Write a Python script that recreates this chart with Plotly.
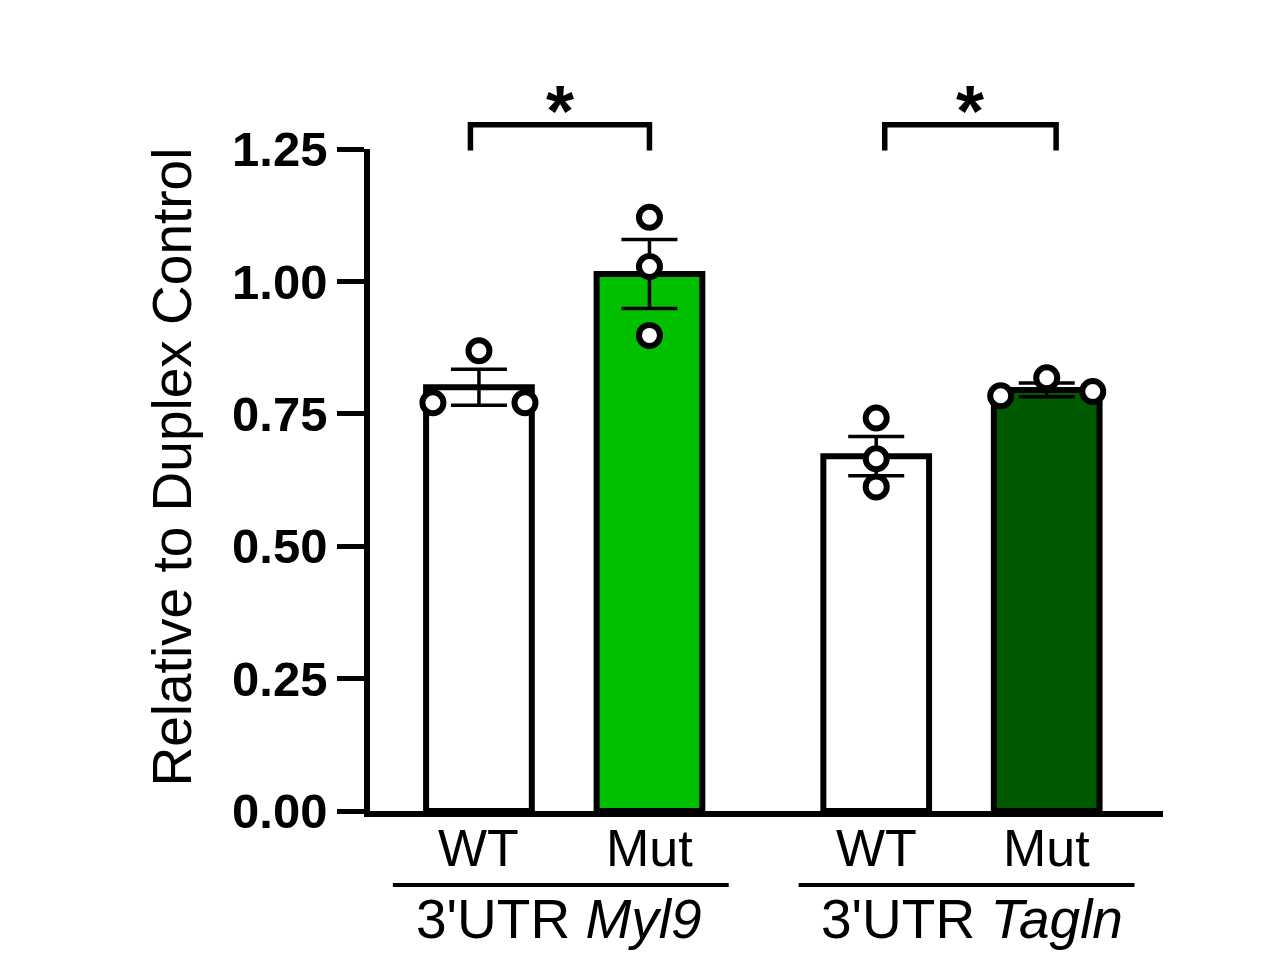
import plotly.graph_objects as go

# data
conditions = ["WT", "Mut", "WT", "Mut"]
groups = ["3'UTR <i>Myl9</i>", "3'UTR <i>Tagln</i>"]
means = [0.800, 1.014, 0.670, 0.795]
sems = [0.034, 0.065, 0.037, 0.013]
points_wt_myl9 = [0.771, 0.869, 0.771]
points_mut_myl9 = [1.121, 1.028, 0.898]
points_wt_tagln = [0.742, 0.665, 0.612]
points_mut_tagln = [0.784, 0.818, 0.792]
y_ticks = [0, 0.25, 0.5, 0.75, 1.0, 1.25]
stars = ["*", "*"]

# layout helpers
x_pos = [1, 2, 3.33, 4.33]
jitter = [[-0.27, 0, 0.27], [0, 0, 0], [0, 0, 0], [-0.27, 0, 0.27]]
bar_colors = ["white", "#00c000", "white", "#005a00"]
pairs = [(0, 1), (2, 3)]
bracket_nudge = [(-0.05, 0.0), (0.05, 0.055)]
label_nudge = [-0.03, 0.06]
line_nudge = [-0.02, 0.03]
FONT = "Liberation Sans, Arial, sans-serif"
Y_MAX = 1.25

all_points = [points_wt_myl9, points_mut_myl9, points_wt_tagln, points_mut_tagln]

fig = go.Figure()
fig.add_trace(go.Bar(
    x=x_pos, y=means, width=0.62,
    marker=dict(color=bar_colors, line=dict(color="black", width=6)),
    error_y=dict(type="data", array=sems, color="black", thickness=3.5, width=28),
    showlegend=False,
))

px_, py_ = [], []
for xp, js, pts in zip(x_pos, jitter, all_points):
    for j, v in zip(js, pts):
        px_.append(xp + j)
        py_.append(v)
fig.add_trace(go.Scatter(
    x=px_, y=py_, mode="markers", showlegend=False, cliponaxis=False,
    marker=dict(symbol="circle", size=21, color="white", line=dict(color="black", width=6)),
))

# significance brackets (above the axis range, so in paper units)
y_top, y_leg = 1.296 / Y_MAX, 1.247 / Y_MAX
for (a, b), (n1, n2), s in zip(pairs, bracket_nudge, stars):
    x1, x2 = x_pos[a] + n1, x_pos[b] + n2
    fig.add_shape(type="path", xref="x", yref="paper",
                  path=f"M {x1} {y_leg} L {x1} {y_top} L {x2} {y_top} L {x2} {y_leg}",
                  line=dict(color="black", width=5.5))
    fig.add_annotation(x=(x1 + x2) / 2, y=y_top, xref="x", yref="paper", text=s,
                       showarrow=False, yanchor="bottom", yshift=-28,
                       font=dict(family=FONT, size=72, color="black", weight="bold"))

# condition labels
for xp, lab in zip(x_pos, conditions):
    fig.add_annotation(x=xp, y=-0.056, xref="x", yref="paper", text=lab,
                       showarrow=False, yanchor="middle",
                       font=dict(family=FONT, size=52, color="black"))

# group labels with underlines
for (a, b), g, ln, lb in zip(pairs, groups, line_nudge, label_nudge):
    c = (x_pos[a] + x_pos[b]) / 2
    fig.add_shape(type="line", xref="x", yref="paper",
                  x0=c + ln - 0.985, x1=c + ln + 0.985, y0=-0.1118, y1=-0.1118,
                  line=dict(color="black", width=4))
    fig.add_annotation(x=c + lb, y=-0.163, xref="x", yref="paper", text=g,
                       showarrow=False, yanchor="middle",
                       font=dict(family=FONT, size=55, color="black"))

fig.add_annotation(x=-0.25, y=0.52, xref="paper", yref="paper",
                   text="Relative to Duplex Control", textangle=-90,
                   showarrow=False, xanchor="center", yanchor="middle",
                   font=dict(family=FONT, size=55, color="black"))

fig.update_layout(
    width=1270, height=956,
    margin=dict(l=362, r=115, t=141, b=153),
    plot_bgcolor="white", paper_bgcolor="white",
    xaxis=dict(range=[0.361, 5.012], showline=True, linecolor="black", linewidth=5.5,
               showticklabels=False, ticks="", showgrid=False, zeroline=False),
    yaxis=dict(range=[0, Y_MAX], showline=True, linecolor="black", linewidth=5.5,
               tickvals=y_ticks, ticktext=[f"{v:.2f}" for v in y_ticks],
               ticks="outside", ticklen=27, tickwidth=5, tickcolor="black",
               tickfont=dict(family=FONT, size=49, color="black", weight="bold"),
               showgrid=False, zeroline=False),
)

fig.write_html("out.html")
